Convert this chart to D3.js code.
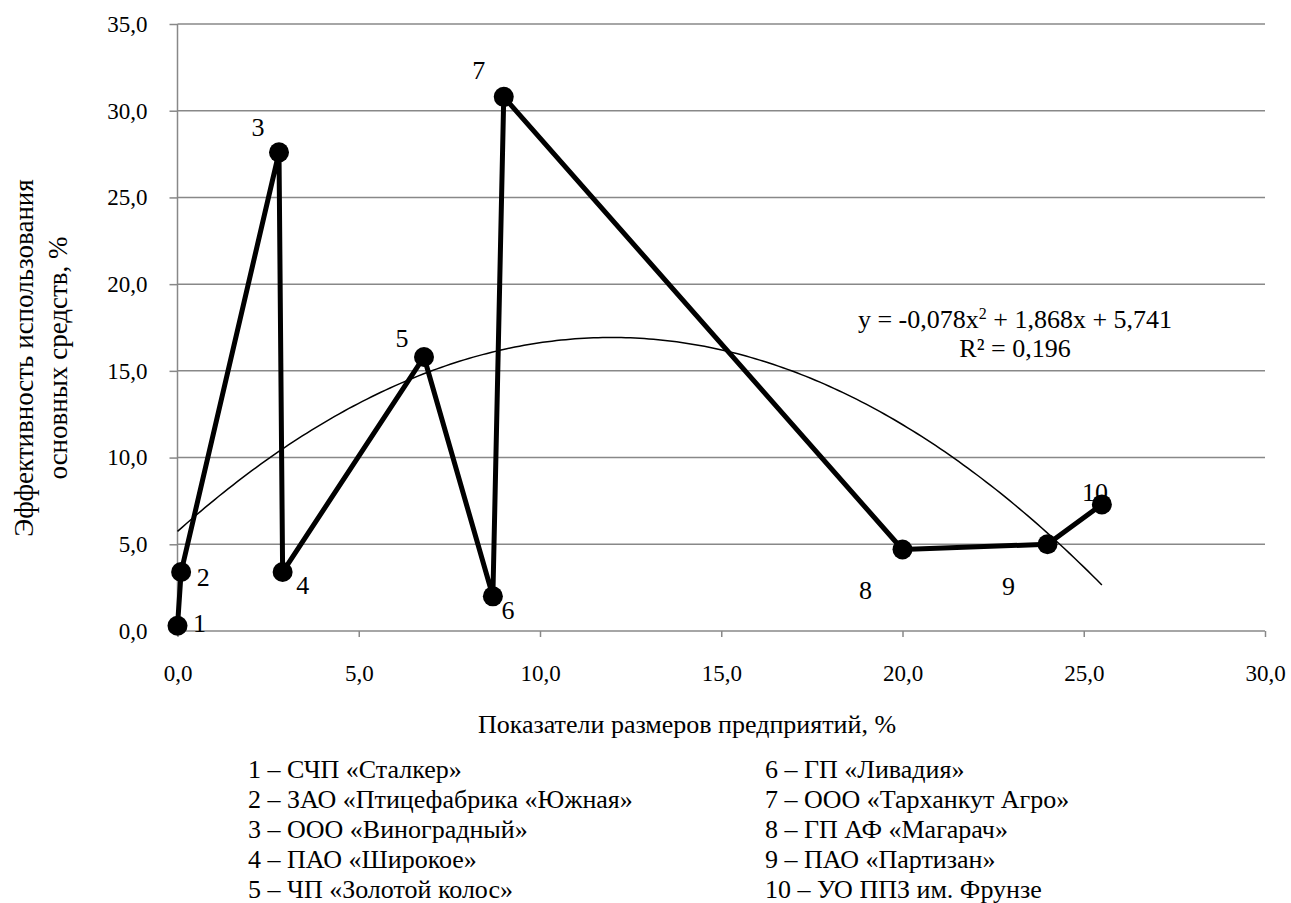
<!DOCTYPE html>
<html>
<head>
<meta charset="utf-8">
<script src="https://cdn.jsdelivr.net/npm/d3@7"></script>
<style>
  body { margin: 0; background: #fff; }
</style>
</head>
<body>
<div id="chart"></div>
<script>
// enterprise numbers and values
var ids = ['1', '2', '3', '4', '5', '6', '7', '8', '9', '10'];
var sizeVals = [0.0, 0.1, 2.8, 2.9, 6.8, 8.7, 9.0, 20.0, 24.0, 25.5];
var effVals = [0.3, 3.4, 27.6, 3.4, 15.8, 2.0, 30.8, 4.7, 5.0, 7.3];

// polynomial trend line (as printed on the chart)
var trendCoef = [5.741, 1.868, -0.078];

var xTicks = [0, 5, 10, 15, 20, 25, 30];
var yTicks = [0, 5, 10, 15, 20, 25, 30, 35];

var legendLeft = [
  '1 – СЧП «Сталкер»',
  '2 – ЗАО «Птицефабрика «Южная»',
  '3 – ООО «Виноградный»',
  '4 – ПАО «Широкое»',
  '5 – ЧП «Золотой колос»'
];
var legendRight = [
  '6 – ГП «Ливадия»',
  '7 – ООО «Тарханкут Агро»',
  '8 – ГП АФ «Магарач»',
  '9 – ПАО «Партизан»',
  '10 – УО ППЗ им. Фрунзе'
];

// pick a Times-like font if one is installed
function pickFont() {
  var cands = ['Liberation Serif', 'Tinos', 'Times New Roman', 'Times', 'DejaVu Serif', 'Noto Serif', 'FreeSerif'];
  var ctx = document.createElement('canvas').getContext('2d');
  var s = 'Эффективность 0,078 mmmWWiil';
  function w(f) { ctx.font = '40px ' + f; return ctx.measureText(s).width; }
  var mono = w('monospace'), sans = w('sans-serif');
  for (var i = 0; i < cands.length; i++) {
    var a = w('"' + cands[i] + '", monospace'), b = w('"' + cands[i] + '", sans-serif');
    if (a !== mono && b !== sans) return '"' + cands[i] + '"';
  }
  return 'serif';
}
var FONT = pickFont() + ', serif';

var fmt = function(d) { return d3.format('.1f')(d).replace('.', ','); };

var svgWidth = 1291, svgHeight = 903;

var svg = d3.select('#chart').append('svg')
  .attr('width', svgWidth)
  .attr('height', svgHeight)
  .style('font-family', FONT);

var xScale = d3.scaleLinear().domain([0, 30]).range([177.5, 1265]);
var yScale = d3.scaleLinear().domain([0, 35]).range([631, 24]);

var grey = '#888888';

// horizontal gridlines
svg.append('g')
  .selectAll('line')
  .data(yTicks.filter(d => d > 0))
  .enter().append('line')
  .attr('x1', xScale(0)).attr('x2', xScale(30))
  .attr('y1', d => yScale(d)).attr('y2', d => yScale(d))
  .attr('stroke', grey).attr('stroke-width', 1.5);

// y axis
var yAxis = d3.axisLeft(yScale).tickValues(yTicks).tickFormat(fmt).tickSize(8).tickPadding(22);
var gy = svg.append('g').attr('transform', `translate(${xScale(0)},0)`).call(yAxis);

// x axis
var xAxis = d3.axisBottom(xScale).tickValues(xTicks).tickFormat(fmt).tickSize(6).tickPadding(28);
var gx = svg.append('g').attr('transform', `translate(0,${yScale(0)})`).call(xAxis);

[gx, gy].forEach(function(g) {
  g.attr('font-family', null).attr('font-size', null);
  g.select('.domain').attr('stroke', grey).attr('stroke-width', 1.5);
  g.selectAll('.tick line').attr('stroke', grey).attr('stroke-width', 1.5);
  g.selectAll('.tick text')
    .style('font-size', '23px')
    .attr('fill', '#000');
});
gy.select('.domain').attr('d', `M0,${yScale(35)}V${yScale(0)}`);
gx.select('.domain').attr('d', `M${xScale(0)},0H${xScale(30)}`);

// trend curve
var xMax = d3.max(sizeVals);
var trendPts = d3.range(0, 201).map(function(i) {
  var x = xMax * i / 200;
  return [x, trendCoef[0] + trendCoef[1] * x + trendCoef[2] * x * x];
});
svg.append('path')
  .datum(trendPts)
  .attr('fill', 'none')
  .attr('stroke', '#000')
  .attr('stroke-width', 1.5)
  .attr('d', d3.line().x(d => xScale(d[0])).y(d => yScale(d[1])));

// data line and markers
var data = ids.map((id, i) => ({ id: id, x: sizeVals[i], y: effVals[i] }));

svg.append('path')
  .datum(data)
  .attr('fill', 'none')
  .attr('stroke', '#000')
  .attr('stroke-width', 5)
  .attr('stroke-linejoin', 'round')
  .attr('d', d3.line().x(d => xScale(d.x)).y(d => yScale(d.y)));

svg.append('g')
  .selectAll('circle')
  .data(data)
  .enter().append('circle')
  .attr('cx', d => xScale(d.x))
  .attr('cy', d => yScale(d.y))
  .attr('r', 10)
  .attr('fill', '#000');

// point number labels (pixel offsets from marker)
var labelOff = [[22, -3], [22, 5], [-21, -25], [20, 13], [-22, -19], [15, 14], [-25, -27], [-37, 41], [-39, 42], [-7, -12]];
svg.append('g')
  .selectAll('text')
  .data(data)
  .enter().append('text')
  .attr('x', (d, i) => xScale(d.x) + labelOff[i][0])
  .attr('y', (d, i) => yScale(d.y) + labelOff[i][1] + 9)
  .attr('text-anchor', 'middle')
  .style('font-size', '26px')
  .text(d => d.id);

// equation
var eq = svg.append('text')
  .attr('x', 1015).attr('y', 328)
  .attr('text-anchor', 'middle')
  .style('font-size', '26px');
eq.append('tspan').text('y = -0,078x');
eq.append('tspan').attr('dy', -9).style('font-size', '16px').text('2');
eq.append('tspan').attr('dy', 9).text(' + 1,868x + 5,741');

svg.append('text')
  .attr('x', 1015).attr('y', 357)
  .attr('text-anchor', 'middle')
  .style('font-size', '26px')
  .text('R² = 0,196');

// axis titles
svg.append('text')
  .attr('transform', 'translate(33,358) rotate(-90)')
  .attr('text-anchor', 'middle')
  .style('font-size', '27px')
  .text('Эффективность использования');
svg.append('text')
  .attr('transform', 'translate(67,358) rotate(-90)')
  .attr('text-anchor', 'middle')
  .style('font-size', '27px')
  .text('основных средств, %');

svg.append('text')
  .attr('x', 687).attr('y', 733)
  .attr('text-anchor', 'middle')
  .style('font-size', '26px')
  .text('Показатели размеров предприятий, %');

// legend below the chart
svg.append('g')
  .selectAll('text')
  .data(legendLeft)
  .enter().append('text')
  .attr('x', 248)
  .attr('y', (d, i) => 778 + i * 30)
  .style('font-size', '26px')
  .text(d => d);

svg.append('g')
  .selectAll('text')
  .data(legendRight)
  .enter().append('text')
  .attr('x', 765)
  .attr('y', (d, i) => 778 + i * 30)
  .style('font-size', '26px')
  .text(d => d);
</script>
</body>
</html>
